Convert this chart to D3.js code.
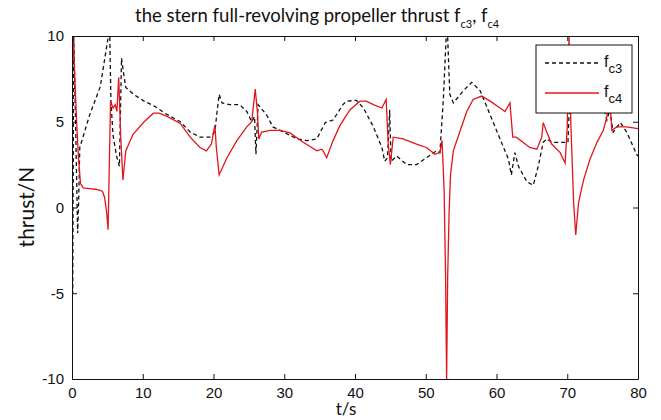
<!DOCTYPE html>
<html lang="en">
<head>
<meta charset="UTF-8">
<title>stern propeller thrust</title>
<script src="https://cdnjs.cloudflare.com/ajax/libs/d3/7.8.5/d3.min.js"></script>
<style>
  body { margin: 0; background: #fff; }
  svg { display: block; }
  .tick text { font-family: "Liberation Sans", Arial, sans-serif; font-size: 15px; fill: #111; }
  .lbl { font-family: Lato, "Open Sans", sans-serif; fill: #111; }
</style>
</head>
<body>
<div id="chart"></div>
<script>
// time (s) and thrust (N)
const t3 = [0, 0.1, 0.25, 0.5, 0.8, 0.95, 1.1, 2.5, 4.0, 5.1, 5.3, 5.5, 5.8, 6.3, 6.7, 7.0, 7.3, 7.6, 8.7, 10.2, 11.7, 13.1,
  15.3, 16.7, 18.1, 19.5, 20.2, 20.45, 20.8, 21.2, 22.3, 23.7, 24.7, 25.4, 25.8, 26.0, 26.3, 27.5, 28.4, 29.9, 31.8,
  33.2, 34.6, 35.8, 36.9, 38.3, 38.8, 40.2, 41.2, 42.6, 43.8, 44.2, 44.6, 44.9, 45.1, 45.9, 47.3, 48.7, 50.1, 51.5,
  52.0, 52.5, 53.0, 53.4, 53.9, 55.3, 56.5, 57.7, 59.1, 60.5, 61.7, 62.1, 62.6, 63.1, 64.3, 65.2, 65.9, 66.6, 67.1,
  67.8, 69.7, 70.1, 70.4, 71.0, 73.0, 75.0, 75.6, 76.0, 76.5, 77.5, 78.4, 79.8, 80];
const fc3 = [0, -5, 10, 5, -1.5, 0.5, 3.5, 5.4, 7.05, 9.9, 11, 6.2, 4.2, 3.0, 2.4, 8.7, 7.8, 7.0, 6.6, 6.2, 5.9, 5.5,
  5.0, 4.4, 4.1, 4.1, 4.4, 5.4, 6.6, 6.1, 6.0, 6.0, 5.6, 5.0, 5.3, 3.1, 6.0, 5.4, 4.7, 4.4, 4.0,
  3.9, 4.0, 4.95, 5.1, 6.0, 6.2, 6.25, 5.8, 4.7, 3.5, 2.7, 2.9, 5.7, 2.7, 3.0, 2.5, 2.5, 2.9, 3.3,
  3.2, 6.4, 11, 6.6, 6.1, 6.8, 7.3, 6.8, 5.4, 4.0, 2.8, 1.9, 3.2, 2.4, 1.5, 1.3, 2.4, 3.8, 4.0,
  3.8, 3.8, 3.8, 7.0, 7.2, 7.2, 6.0, 5.1, 5.7, 4.4, 4.95, 4.4, 3.1, 3.0];

const t4 = [0, 0.2, 0.4, 0.65, 0.9, 1.2, 1.6, 2.5, 3.5, 4.3, 4.6, 4.9, 5.1, 5.25, 5.45, 5.8, 6.1, 6.35, 6.6, 6.9, 7.2,
  7.6, 8.6, 10.2, 11.5, 12.3, 13.5, 15.3, 16.7, 18.1, 19.0, 19.7, 20.2, 20.4, 20.8, 21.9, 23.3, 24.7, 25.4, 25.9,
  26.2, 26.4, 26.8, 28.0, 29.4, 30.8, 32.7, 34.6, 35.3, 35.5, 36.0, 36.9, 37.9, 39.3, 40.7, 41.6, 42.6, 43.8, 44.4,
  44.7, 45.0, 45.4, 46.8, 48.7, 50.1, 51.3, 52.0, 52.3, 52.6, 52.8, 52.95, 53.1, 53.3, 53.5, 53.9, 54.8, 55.8, 56.7,
  57.9, 59.1, 60.5, 61.2, 61.9, 62.3, 62.8, 64.7, 65.7, 66.4, 66.6, 67.1, 67.8, 69.0, 69.7, 70.0, 70.25, 70.5, 70.9,
  71.2, 71.6, 72.3, 73.2, 74.2, 75.1, 75.6, 75.9, 76.3, 77.0, 78.4, 80];
const fc4 = [10, 9.5, 7.5, 5, 3, 1.4, 1.15, 1.1, 1.05, 0.95, 0.6, -0.3, -1.3, 2, 6.2, 5.8, 6.0, 5.6, 7.6, 4, 1.6,
  3.3, 4.25, 5.0, 5.5, 5.5, 5.3, 4.9, 4.1, 3.5, 3.3, 3.7, 4.8, 3.5, 1.9, 2.9, 3.9, 4.7, 5.0, 6.9,
  5.6, 4.0, 4.4, 4.5, 4.5, 4.35, 3.8, 3.3, 3.4, 3.3, 2.9, 3.9, 4.8, 5.7, 6.2, 6.2, 6.0, 5.8, 6.3,
  3.7, 2.5, 4.1, 4.0, 3.7, 3.5, 3.1, 3.2, 3.9, 1.0, -4, -10, -4, -0.3, 1.9, 3.3, 4.4, 5.6, 6.3,
  6.5, 6.2, 5.8, 5.6, 6.1, 4.1, 4.1, 3.5, 3.4, 4.1, 4.95, 4.4, 3.7, 3.2, 2.6, 4.7, 10, 5, 0.3,
  -1.6, 0.3, 1.6, 2.8, 3.8, 4.5, 5.3, 7, 4.5, 4.7, 4.7, 4.6];

const xTicks = [0, 10, 20, 30, 40, 50, 60, 70, 80];
const yTicks = [-10, -5, 0, 5, 10];

const W = 661, H = 420;
const mLeft = 72, mRight = 638, mTop = 36, mBottom = 379;

const svg = d3.select("#chart").append("svg")
  .attr("width", W).attr("height", H);

const x = d3.scaleLinear().domain([0, 80]).range([mLeft, mRight]);
const y = d3.scaleLinear().domain([-10, 10]).range([mBottom, mTop]);

svg.append("clipPath").attr("id", "clip")
  .append("rect").attr("x", mLeft).attr("y", mTop)
  .attr("width", mRight - mLeft).attr("height", mBottom - mTop);

const line = d3.line().x(d => x(d[0])).y(d => y(d[1]));

const plot = svg.append("g").attr("clip-path", "url(#clip)");
plot.append("path")
  .datum(t3.map((t, i) => [t, fc3[i]]))
  .attr("d", line)
  .attr("fill", "none").attr("stroke", "#111")
  .attr("stroke-width", 1.3).attr("stroke-dasharray", "4,3");
plot.append("path")
  .datum(t4.map((t, i) => [t, fc4[i]]))
  .attr("d", line)
  .attr("fill", "none").attr("stroke", "#e3141b")
  .attr("stroke-width", 1.3);

// axes, ticks inward like matlab; plain hyphen for negatives
const fmt = d => String(d);
const xb = svg.append("g").attr("transform", `translate(0,${mBottom})`)
  .call(d3.axisBottom(x).tickValues(xTicks).tickFormat(fmt).tickSizeInner(-5).tickSizeOuter(0).tickPadding(8));
const xt = svg.append("g").attr("transform", `translate(0,${mTop})`)
  .call(d3.axisTop(x).tickValues(xTicks).tickSizeInner(-5).tickSizeOuter(0).tickFormat(""));
const yl = svg.append("g").attr("transform", `translate(${mLeft},0)`)
  .call(d3.axisLeft(y).tickValues(yTicks).tickFormat(fmt).tickSizeInner(-5).tickSizeOuter(0).tickPadding(8));
const yr = svg.append("g").attr("transform", `translate(${mRight},0)`)
  .call(d3.axisRight(y).tickValues(yTicks).tickSizeInner(-5).tickSizeOuter(0).tickFormat(""));
[xb, xt, yl, yr].forEach(g => {
  g.select(".domain").attr("stroke", "#111");
  g.selectAll(".tick line").attr("stroke", "#111");
});

// legend
const lg = svg.append("g");
lg.append("rect").attr("x", 536).attr("y", 45).attr("width", 96).attr("height", 68)
  .attr("fill", "#fff").attr("stroke", "#111");
const items = [{ sub: "c3", dash: "4,3", color: "#111", yy: 63 }, { sub: "c4", dash: null, color: "#e3141b", yy: 93 }];
items.forEach(it => {
  lg.append("line").attr("x1", 545).attr("x2", 599).attr("y1", it.yy).attr("y2", it.yy)
    .attr("stroke", it.color).attr("stroke-width", 1.3).attr("stroke-dasharray", it.dash);
  const tx = lg.append("text").attr("x", 604).attr("y", it.yy + 4)
    .style("font-family", "'Liberation Sans', Arial, sans-serif").style("font-size", "16px").attr("fill", "#111");
  tx.append("tspan").text("f");
  tx.append("tspan").attr("dy", 6).style("font-size", "13px").text(it.sub);
});

// title and axis labels
const title = svg.append("text").attr("class", "lbl").attr("x", 135).attr("y", 22)
  .style("font-size", "18.5px");
title.append("tspan").text("the stern full-revolving propeller thrust f");
title.append("tspan").attr("dy", 6).style("font-size", "11px").text("c3");
title.append("tspan").attr("dy", -6).text(", f");
title.append("tspan").attr("dy", 6).style("font-size", "11px").text("c4");

svg.append("text").attr("class", "lbl")
  .attr("transform", `translate(34,207) rotate(-90)`)
  .attr("text-anchor", "middle").style("font-size", "21px").text("thrust/N");

svg.append("text").attr("class", "lbl")
  .attr("x", 346).attr("y", 415).attr("text-anchor", "middle")
  .style("font-size", "17px").text("t/s");
</script>
</body>
</html>
